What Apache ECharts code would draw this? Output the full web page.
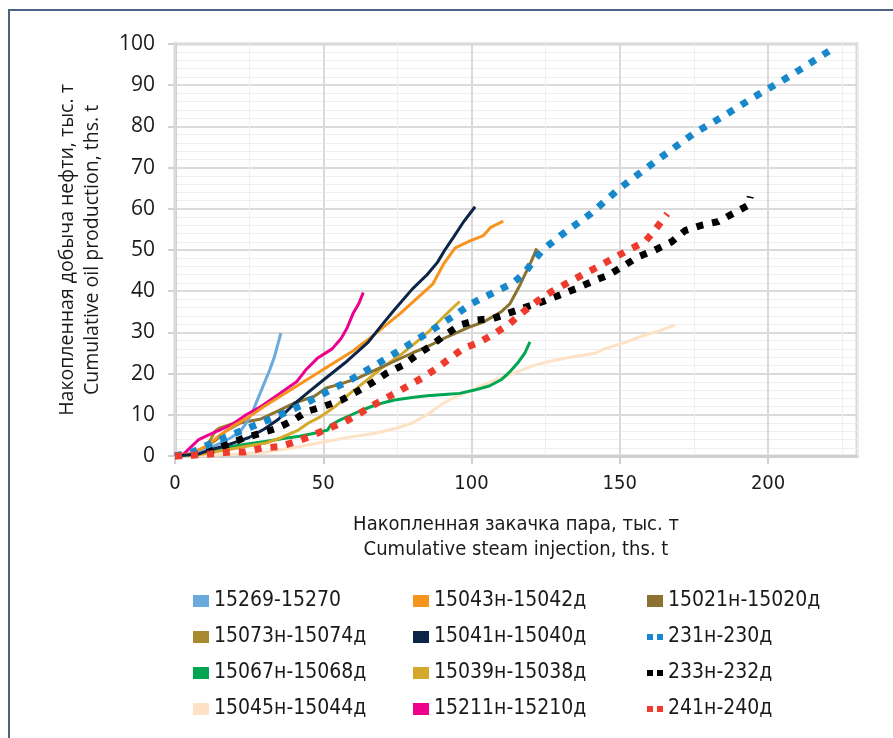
<!DOCTYPE html>
<html>
<head>
<meta charset="utf-8">
<title>Накопленная добыча нефти</title>
<script src="https://cdn.jsdelivr.net/npm/echarts@6/dist/echarts.min.js"></script>
<style>
    html, body { margin: 0; padding: 0; background: #fff; }
    #chart { width: 893px; height: 738px; }
</style>
</head>
<body>
<div id="chart"></div>
<script>
// ---- данные ----
const xTicks = [0, 50, 100, 150, 200];
const yTicks = [0, 10, 20, 30, 40, 50, 60, 70, 80, 90, 100];

const names = [
    '15269-15270', '15043н-15042д', '15021н-15020д',
    '15073н-15074д', '15041н-15040д', '231н-230д',
    '15067н-15068д', '15039н-15038д', '233н-232д',
    '15045н-15044д', '15211н-15210д', '241н-240д'
];

const s15269 = [[0,0],[5,0.5],[10,1.5],[15,3],[19,4.5],[22,6],[24,8],[26,10.5],[28,14],[30,17.5],[32,21],[33.5,24],[35.7,29.8]];
const s15211 = [[0,0],[3,0.5],[5,1.9],[8,4],[11,5],[15,6.3],[20,8],[24,10],[29,12],[35,15],[38,16.5],[41,18],[44,20.8],[48,23.7],[53,26],[56,28.5],[58,31],[60,34.5],[62,37],[63.5,39.7]];
const s15043 = [[0,0],[5,0.5],[11,2.5],[15,5],[19,7],[25,9.5],[30,12],[40,16.5],[50,21],[60,25.5],[65,28.2],[76,34.6],[87,41.8],[90.5,46.5],[94.5,50.5],[99.5,52.2],[104,53.5],[106.5,55.5],[110.7,57]];
const s15041 = [[0,0],[8,0.5],[12,1.5],[17,2.5],[25,4.5],[30,6.5],[35,9],[40,12.5],[45,15.5],[51,19],[58,23],[65,27.5],[70,32],[74,35.5],[80,40.5],[85,44],[88.5,47],[91,50],[94,53.2],[97,56.5],[101.2,60.5]];
const s15021 = [[0,0],[5,0.5],[10,2],[14,4],[17,6],[22,8],[29,9],[35,11],[40,12.8],[47,14.5],[51,16.5],[56,17.5],[62,19],[68,21],[74,23],[80,25],[85,26.5],[92,29],[100,31.5],[104,32.5],[110,35],[113,37],[116,41],[118,44],[120,47],[122,50.4]];
const s15073 = [[0,0],[6,0.5],[10,2],[12,4],[13.5,6],[15,6.8],[18,7.5],[21,8.3]];
const s15039 = [[0,0],[8,0.3],[13.5,1],[20,1.8],[25,2.5],[30.4,3.1],[36,4.5],[41.6,6.3],[45,8],[49,9.5],[54,12],[59,15.2],[64,18],[70,21.5],[76,24.5],[81.5,27.7],[86,30.5],[89.5,33],[93,35.5],[96,37.5]];
const s15067 = [[0,0],[5,0.3],[8,0.6],[13,1.5],[19,2.3],[25,3],[30.4,3.5],[36,4.2],[42,4.8],[47,5.5],[51.5,6.3],[52.5,7.5],[55,8.5],[62,10.8],[68,12.5],[74,13.6],[80,14.2],[85,14.6],[92,15],[96,15.2],[101,16],[106,17],[110,18.5],[113,20.5],[115.5,22.5],[118,25],[119.7,27.7]];
const s15045 = [[0,0],[10,0.2],[20,0.4],[29,0.8],[40,2],[51,3.5],[60,4.7],[68,5.6],[75,6.8],[80,8],[85,10],[90.5,12.8],[95,14.5],[101,16.3],[106,17.8],[110,19],[115,20.3],[121,22],[126.5,23],[132,23.8],[138,24.5],[142,25],[144,25.8],[147,26.5],[152,27.6],[157,29],[163,30.3],[168.6,31.8]];
const s231 = [[0,0],[6,1],[12,3],[22,6],[33,9.2],[43,12.4],[51,15.5],[59,18.4],[67,21.8],[75,25.3],[85,29.8],[94,34],[100,37],[107,39.5],[114,42],[118,44.5],[121,47.5],[124,50],[130,53.5],[140,58.7],[150,65],[162,71.5],[175,78.3],[185,82.5],[195,87],[208,92.5],[221,98.5]];
const s233 = [[0,0],[8,0.5],[12,1.2],[17.4,2.7],[23,4.3],[28.7,5.5],[34.3,6.7],[40,8.7],[44.4,10.8],[50,12],[56.2,13.6],[61.3,15.6],[67,18],[71.4,20.1],[77,22.1],[81.5,24.5],[86.6,26.9],[91.1,29.4],[96.1,31.8],[101.8,33],[107.4,33.4],[113,34.8],[118.6,36.2],[124.2,37.5],[129.8,39.1],[135.5,40.7],[140.5,42.3],[146.1,43.9],[151.2,46.1],[156.3,48.4],[161.9,50],[167.5,52],[172,54.7],[177.6,56],[183.2,56.9],[188.3,58.9],[193.4,60.9],[194,63]];
const s241 = [[0,0],[6,0.2],[11.8,0.5],[17.4,0.9],[23.6,1],[29.2,1.9],[35.4,2.3],[41,3.5],[46.6,5.1],[51.7,6.7],[57.3,8.3],[62.4,10.4],[67.5,12.6],[73.1,14.8],[78.1,16.8],[83.2,18.9],[88.3,21.3],[92.7,23.7],[97.2,26.1],[102.9,27.7],[107.9,29.8],[113,32.2],[117.5,35],[122,37.5],[127,39.9],[132.1,41.9],[137.2,43.9],[142.8,46],[147.8,48],[152.9,50],[158.5,52],[161.9,54.9],[166,58.8]];

// ---- оформление ----
const NARROW = "'DejaVu Sans Condensed', 'DejaVu Sans', sans-serif";
const REGULAR = "'Open Sans', 'Noto Sans', sans-serif";
const DOTS = 'path://M0,0h6v6h-6zM10,0h6v6h-6z';
const GRID_MAJOR = '#dadada';
const GRID_MINOR = '#efefef';

function solid(name, data, color) {
    return {
        name, type: 'line', data,
        showSymbol: false, symbol: 'none',
        lineStyle: { color, width: 3 },
        itemStyle: { color },
        silent: true,
    };
}

function dotted(name, data, color) {
    return {
        name, type: 'line', data,
        showSymbol: false, symbol: 'none',
        lineStyle: { color, width: 7, type: [7, 9], cap: 'butt' },
        itemStyle: { color },
        silent: true,
    };
}

const series = [
    solid(names[9], s15045, '#fde2c6'),
    solid(names[6], s15067, '#00a651'),
    solid(names[3], s15073, '#a8892f'),
    solid(names[7], s15039, '#d4a82a'),
    solid(names[2], s15021, '#8b7230'),
    solid(names[0], s15269, '#6aabdf'),
    solid(names[10], s15211, '#ec008c'),
    solid(names[1], s15043, '#f7941d'),
    solid(names[4], s15041, '#0c2447'),
    dotted(names[8], s233, '#000000'),
    dotted(names[5], s231, '#1788cb'),
    dotted(names[11], s241, '#ee3b2d'),
];

function legendColumn(left, items) {
    return {
        orient: 'vertical',
        left, top: 588,
        padding: 0,
        itemWidth: 16, itemHeight: 12,
        itemGap: 10,
        selectedMode: false,
        textStyle: { fontFamily: NARROW, fontSize: 21, color: '#1a1a1a', lineHeight: 26 },
        data: items.map(n => ({ name: n, icon: n.startsWith('2') ? DOTS : 'rect' })),
    };
}

const chart = echarts.init(document.getElementById('chart'));
chart.setOption({
    backgroundColor: '#ffffff',
    animation: false,
    graphic: [{
        type: 'rect',
        shape: { x: 9, y: 10, width: 900, height: 800 },
        style: { fill: 'none', stroke: '#4b6282', lineWidth: 2 },
        silent: true,
    }],
    grid: {
        left: 175, top: 44, right: 36, bottom: 282,
        show: true, borderColor: '#d6d6d6', borderWidth: 3,
    },
    legend: [
        legendColumn(193, [names[0], names[3], names[6], names[9]]),
        legendColumn(413, [names[1], names[4], names[7], names[10]]),
        legendColumn(647, [names[2], names[5], names[8], names[11]]),
    ],
    xAxis: [{
        type: 'value', min: 0, max: 230, interval: 50, z: 2,
        name: 'Накопленная закачка пара, тыс. т\nCumulative steam injection, ths. t',
        nameLocation: 'middle', nameGap: 56,
        nameTextStyle: { fontFamily: NARROW, fontSize: 20, color: '#1a1a1a', lineHeight: 25 },
        axisLine: { lineStyle: { color: '#d0d0d0', width: 3 } },
        axisTick: { show: true, length: 8, lineStyle: { color: '#d0d0d0', width: 2 }, customValues: xTicks },
        axisLabel: { fontFamily: NARROW, fontSize: 20, color: '#1a1a1a', margin: 18, customValues: xTicks },
        splitLine: { show: true, lineStyle: { color: GRID_MAJOR, width: 2 } },
    }, {
        type: 'value', min: 0, max: 230, interval: 25, z: 1,
        axisLine: { show: false }, axisTick: { show: false }, axisLabel: { show: false },
        splitLine: { show: true, lineStyle: { color: GRID_MINOR, width: 1 } },
    }],
    yAxis: {
        type: 'value', min: 0, max: 100, interval: 10,
        name: 'Накопленная добыча нефти, тыс. т\nCumulative oil production, ths. t',
        nameLocation: 'middle', nameGap: 70, nameRotate: 90,
        nameTextStyle: { fontFamily: REGULAR, fontSize: 19.5, color: '#1a1a1a', lineHeight: 25 },
        axisLine: { show: true, lineStyle: { color: '#d0d0d0', width: 3 } },
        axisTick: { show: true, length: 7, lineStyle: { color: '#d0d0d0', width: 2 } },
        axisLabel: { fontFamily: REGULAR, fontSize: 21, color: '#1a1a1a', margin: 20, customValues: yTicks },
        splitLine: { show: true, lineStyle: { color: GRID_MAJOR, width: 2 } },
        minorTick: { show: false, splitNumber: 5 },
        minorSplitLine: { show: true, lineStyle: { color: GRID_MINOR, width: 1 } },
    },
    series,
});
</script>
</body>
</html>
